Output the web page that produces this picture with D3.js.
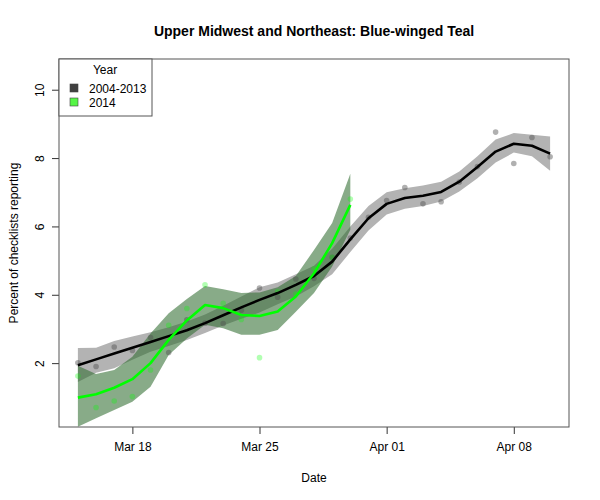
<!DOCTYPE html>
<html>
<head>
<meta charset="utf-8">
<script src="https://cdn.jsdelivr.net/npm/d3@7"></script>
<style>
  body { margin: 0; background: #fff; }
  svg text { font-family: "Liberation Sans", Arial, Helvetica, sans-serif; fill: #000; }
</style>
</head>
<body>
<div id="chart"></div>
<script>
// days from Mar 15 to Apr 10 2014
var startDay = [2014, 2, 15];
var nAll = 27, nNew = 16;

// 2004-2013 daily values, loess fit and band
var allPts   = [2.01, 1.90, 2.47, 2.37, 2.75, 2.31, 3.27, 3.17, 3.16, 3.55, 4.20, 3.93, 4.46, 4.48, 5.10, 5.66, 6.27, 6.76, 7.14, 6.66, 6.72, 7.30, 7.75, 8.76, 7.84, 8.60, 8.04];
var allFit   = [1.94, 2.11, 2.28, 2.45, 2.62, 2.79, 2.96, 3.17, 3.40, 3.63, 3.85, 4.05, 4.29, 4.55, 4.97, 5.62, 6.24, 6.66, 6.83, 6.90, 7.01, 7.31, 7.74, 8.19, 8.42, 8.36, 8.13];
var allUpper = [2.44, 2.45, 2.65, 2.78, 2.90, 3.05, 3.22, 3.42, 3.68, 3.95, 4.22, 4.36, 4.60, 4.85, 5.35, 6.00, 6.60, 7.00, 7.12, 7.20, 7.31, 7.61, 8.05, 8.54, 8.73, 8.68, 8.63];
var allLower = [1.45, 1.72, 1.85, 2.10, 2.33, 2.50, 2.68, 2.88, 3.10, 3.30, 3.48, 3.72, 3.95, 4.25, 4.60, 5.25, 5.88, 6.35, 6.52, 6.60, 6.73, 7.02, 7.41, 7.87, 8.16, 8.05, 7.63];

// 2014 values (Mar 15 - Mar 30)
var newPts   = [1.62, 0.70, 0.89, 1.02, 1.80, 3.11, 3.60, 4.29, 3.75, 3.28, 2.16, 4.09, 4.02, 4.76, 5.10, 6.80];
var newFit   = [0.99, 1.09, 1.28, 1.53, 2.00, 2.68, 3.25, 3.70, 3.61, 3.41, 3.38, 3.51, 3.95, 4.63, 5.51, 6.63];
var newUpper = [1.92, 1.68, 1.80, 2.19, 2.87, 3.46, 3.88, 4.26, 4.16, 4.05, 4.07, 4.22, 4.55, 5.31, 6.10, 7.54];
var newLower = [0.14, 0.39, 0.63, 0.87, 1.31, 2.24, 2.72, 3.12, 3.02, 2.83, 2.83, 2.97, 3.50, 4.05, 4.83, 5.90];

var yRange = [0.53, 10.5];
var yTicks = [2, 4, 6, 8, 10];
var xTickDays = [[2, 18], [2, 25], [3, 1], [3, 8]];
var legendNames = ["2004-2013", "2014"];
var legendColors = ["#404040", "#55f545"];

function dayDate(i) {
  return new Date(Date.UTC(startDay[0], startDay[1], startDay[2] + i));
}

var width = 600, height = 500;
var margin = {top: 59, right: 31, bottom: 73, left: 59};
var w = width - margin.left - margin.right, h = height - margin.top - margin.bottom;

var svg = d3.select("#chart").append("svg")
    .attr("width", width)
    .attr("height", height);

var g = svg.append("g")
    .attr("transform", "translate(" + margin.left + "," + margin.top + ")");

// R style 4% padding
var d0 = dayDate(0), d1 = dayDate(nAll - 1);
var span = d1 - d0;
var x = d3.scaleUtc()
    .domain([new Date(+d0 - span * 0.04), new Date(+d1 + span * 0.04)])
    .range([0, w]);
var ySpan = yRange[1] - yRange[0];
var y = d3.scaleLinear()
    .domain([yRange[0] - ySpan * 0.04, yRange[1] + ySpan * 0.04])
    .range([h, 0]);

var all = allPts.map(function(v, i){
  return {date: dayDate(i), pt: v, fit: allFit[i], lo: allLower[i], hi: allUpper[i]};
});
var cur = newPts.map(function(v, i){
  return {date: dayDate(i), pt: v, fit: newFit[i], lo: newLower[i], hi: newUpper[i]};
});

var band = d3.area()
    .x(function(d){ return x(d.date); })
    .y0(function(d){ return y(d.lo); })
    .y1(function(d){ return y(d.hi); });
var line = d3.line()
    .x(function(d){ return x(d.date); })
    .y(function(d){ return y(d.fit); });

g.append("path").datum(all)
    .attr("d", band)
    .attr("fill", "#b3b3b3");

g.append("path").datum(cur)
    .attr("d", band)
    .attr("fill", "#2e6b2e")
    .attr("fill-opacity", 0.57);

g.selectAll("circle.all")
    .data(all)
    .enter().append("circle")
    .attr("class", "all")
    .attr("cx", function(d){ return x(d.date); })
    .attr("cy", function(d){ return y(d.pt); })
    .attr("r", 2.8)
    .attr("fill", "#505050")
    .attr("fill-opacity", 0.45);

g.selectAll("circle.cur")
    .data(cur)
    .enter().append("circle")
    .attr("class", "cur")
    .attr("cx", function(d){ return x(d.date); })
    .attr("cy", function(d){ return y(d.pt); })
    .attr("r", 2.8)
    .attr("fill", "#00ff00")
    .attr("fill-opacity", 0.3);

g.append("path").datum(all)
    .attr("d", line)
    .attr("fill", "none")
    .attr("stroke", "#000")
    .attr("stroke-width", 2.6)
    .attr("stroke-linejoin", "round");

g.append("path").datum(cur)
    .attr("d", line)
    .attr("fill", "none")
    .attr("stroke", "#00ff00")
    .attr("stroke-width", 2.6)
    .attr("stroke-linejoin", "round");

// axes
var xTicks = xTickDays.map(function(d){ return new Date(Date.UTC(2014, d[0], d[1])); });
var x_axis = d3.axisBottom(x)
    .tickValues(xTicks)
    .tickFormat(d3.utcFormat("%b %d"))
    .tickSizeInner(7)
    .tickSizeOuter(0)
    .tickPadding(8);
var y_axis = d3.axisLeft(y)
    .tickValues(yTicks)
    .tickSizeInner(7)
    .tickSizeOuter(0);

var xa = g.append("g")
    .attr("transform", "translate(0," + h + ")")
    .call(x_axis);
xa.select(".domain").remove();
xa.selectAll("text").attr("font-size", 12).attr("font-family", null);
xa.selectAll("line").attr("stroke", "#333");

var ya = g.append("g").call(y_axis);
ya.select(".domain").remove();
ya.selectAll("line").attr("stroke", "#333");
ya.selectAll("text")
    .attr("font-size", 12)
    .attr("font-family", null)
    .attr("text-anchor", "middle")
    .attr("x", null)
    .attr("dy", null)
    .attr("transform", "translate(-15,0) rotate(-90)");

// box
g.append("rect")
    .attr("width", w)
    .attr("height", h)
    .attr("fill", "none")
    .attr("stroke", "#555")
    .attr("stroke-width", 1);

// titles
svg.append("text")
    .attr("x", margin.left + w / 2)
    .attr("y", 36)
    .attr("text-anchor", "middle")
    .attr("font-size", 14)
    .attr("font-weight", "bold")
    .text("Upper Midwest and Northeast: Blue-winged Teal");

svg.append("text")
    .attr("x", margin.left + w / 2)
    .attr("y", 482)
    .attr("text-anchor", "middle")
    .attr("font-size", 12)
    .text("Date");

svg.append("text")
    .attr("transform", "translate(18," + (margin.top + h / 2) + ") rotate(-90)")
    .attr("text-anchor", "middle")
    .attr("font-size", 12)
    .text("Percent of checklists reporting");

// legend
var lg = svg.append("g").attr("transform", "translate(" + margin.left + "," + margin.top + ")");
lg.append("rect")
    .attr("width", 93)
    .attr("height", 57)
    .attr("fill", "#fff")
    .attr("stroke", "#555");
lg.append("text")
    .attr("x", 46)
    .attr("y", 15)
    .attr("text-anchor", "middle")
    .attr("font-size", 12)
    .text("Year");
var items = lg.selectAll("g.item")
    .data(legendNames)
    .enter().append("g")
    .attr("class", "item")
    .attr("transform", function(d, i){ return "translate(11," + (25 + i * 14) + ")"; });
items.append("rect")
    .attr("width", 8)
    .attr("height", 8)
    .attr("fill", function(d, i){ return legendColors[i]; })
    .attr("stroke", "#444")
    .attr("stroke-width", 0.6);
items.append("text")
    .attr("x", 19)
    .attr("y", 8.5)
    .attr("font-size", 12)
    .text(function(d){ return d; });
</script>
</body>
</html>
